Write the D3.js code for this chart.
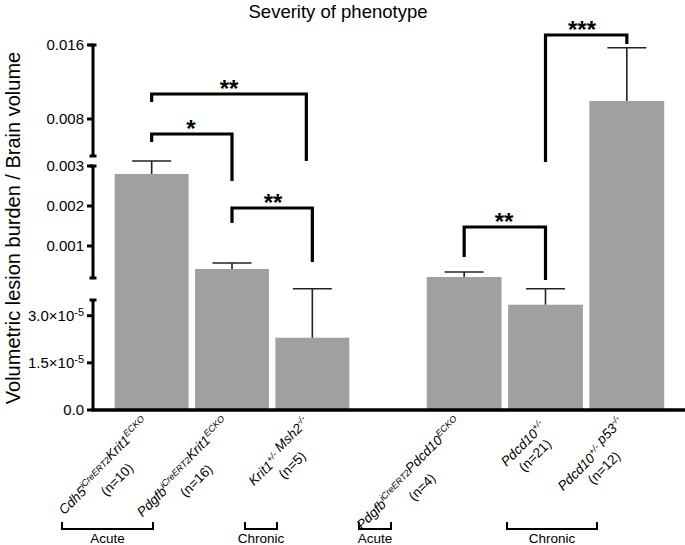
<!DOCTYPE html>
<html>
<head>
<meta charset="utf-8">
<script src="https://cdn.jsdelivr.net/npm/d3@7"></script>
<style>
  body { margin: 0; background: #fff; }
  svg { font-family: "Liberation Sans", Arial, sans-serif; }
</style>
</head>
<body>
<div id="chart"></div>
<script>
// genotype labels: [name, superscript] pieces
var genotypes = [[["Cdh5", "iCreERT2"], ["Krit1", "ECKO"]],
                 [["Pdgfb", "iCreERT2"], ["Krit1", "ECKO"]],
                 [["Krit1", "+/-"], [" Msh2", "-/-"]],
                 [["Pdgfb", "iCreERT2"], ["Pdcd10", "ECKO"]],
                 [["Pdcd10", "+/-"]],
                 [["Pdcd10", "+/-"], [" p53", "-/-"]]];
var nCounts = [10, 16, 5, 4, 21, 12];
var means   = [0.0028, 0.000425, 2.3e-5, 0.000225, 3.35e-5, 0.00995];
var errors  = [0.000325, 0.00015, 1.56e-5, 0.000125, 0.51e-5, 0.00575];
var side    = ["left", "left", "left", "right", "right", "right"];

var groupLabels = ["Acute", "Chronic", "Acute", "Chronic"];
// significance brackets: bar a -> bar b
var sigPairs = [{a: 0, b: 2, label: "**"},
                {a: 0, b: 1, label: "*"},
                {a: 1, b: 2, label: "**"},
                {a: 3, b: 4, label: "**"},
                {a: 4, b: 5, label: "***"}];

// axis segments (broken y axis)
var segTicks = [[0.008, 0.016], [0.001, 0.002, 0.003], [0, 1.5e-5, 3.0e-5]];

var width = 685, height = 545;
var svg = d3.select("#chart").append("svg")
  .attr("width", width).attr("height", height);

var axisX = 93, baseY = 410;

var ySegs = [
  d3.scaleLinear().domain([0.004, 0.016]).range([156, 45]),
  d3.scaleLinear().domain([0.0002, 0.003]).range([278, 166]),
  d3.scaleLinear().domain([0, 3.5e-5]).range([baseY, 300])
];
function segOf(v){
  if(v >= 0.0035) return 0;
  if(v >= 0.0001) return 1;
  return 2;
}
function yPos(v){ return ySegs[segOf(v)](v); }

var xLeft = d3.scaleBand().domain([0, 1, 2]).range([111.5, 352.5])
  .paddingInner(0.08).paddingOuter(0.04);
var xRight = d3.scaleBand().domain([3, 4, 5]).range([423.5, 667.5])
  .paddingInner(0.08).paddingOuter(0.04);
function xs(i){ return side[i] == "left" ? xLeft : xRight; }
function cx(i){ return xs(i)(i) + xs(i).bandwidth() / 2; }

var idx = d3.range(means.length);

// title
svg.append("text")
  .attr("x", 338).attr("y", 18)
  .attr("text-anchor", "middle")
  .style("font-size", "18.5px")
  .text("Severity of phenotype");

// y title
svg.append("text")
  .attr("transform", "translate(20," + 228 + ") rotate(-90)")
  .attr("text-anchor", "middle")
  .style("font-size", "20px")
  .text("Volumetric lesion burden / Brain volume");

// bars
svg.selectAll("rect.bar")
  .data(idx).enter()
  .append("rect")
    .attr("class", "bar")
    .attr("x", function(d){ return xs(d)(d); })
    .attr("width", function(d){ return xs(d).bandwidth(); })
    .attr("y", function(d){ return yPos(means[d]); })
    .attr("height", function(d){ return baseY - yPos(means[d]); })
    .attr("fill", "#a0a0a0");

// error bars
var capW = 39;
var eb = svg.selectAll("g.err").data(idx).enter().append("g").attr("class", "err")
  .attr("stroke", "#222").attr("stroke-width", 1.6);
eb.append("line")
  .attr("x1", cx).attr("x2", cx)
  .attr("y1", function(d){ return yPos(means[d]); })
  .attr("y2", function(d){ return yPos(means[d] + errors[d]); });
eb.append("line")
  .attr("x1", function(d){ return cx(d) - capW / 2; })
  .attr("x2", function(d){ return cx(d) + capW / 2; })
  .attr("y1", function(d){ return yPos(means[d] + errors[d]); })
  .attr("y2", function(d){ return yPos(means[d] + errors[d]); });

// y axis segments
function fmtTick(v){
  if(v == 0) return "0.0";
  if(v < 0.0001) return (v * 1e5).toFixed(1) + "×10";
  return d3.format(".3f")(v);
}
ySegs.forEach(function(s, k){
  var r = s.range();
  var top = k == 0 ? s(0.016) : (k == 1 ? s(0.003) : r[1]);
  var bot = k == 2 ? baseY : r[0];
  var g = svg.append("g").attr("transform", "translate(" + axisX + ",0)");
  g.append("line").attr("x1", 0).attr("x2", 0).attr("y1", top).attr("y2", bot)
    .attr("stroke", "#000").attr("stroke-width", 3);
  [top, bot].forEach(function(yy){
    if(k == 2 && yy == bot) return;
    g.append("line").attr("x1", -3.5).attr("x2", 3.5).attr("y1", yy).attr("y2", yy)
      .attr("stroke", "#000").attr("stroke-width", 3);
  });
  var t = g.selectAll("g.tick").data(segTicks[k]).enter().append("g")
    .attr("transform", function(d){ return "translate(0," + s(d) + ")"; });
  t.append("line").attr("x1", -6).attr("x2", 0)
    .attr("stroke", "#000").attr("stroke-width", 3);
  var tx = t.append("text")
    .attr("x", -9).attr("dy", "0.35em")
    .attr("text-anchor", "end")
    .style("font-size", "15px");
  tx.text(fmtTick);
  tx.filter(function(d){ return d > 0 && d < 0.0001; })
    .append("tspan").attr("dy", "-0.45em").style("font-size", "11px").text("-5");
});

// x axis
svg.append("line")
  .attr("x1", axisX - 1.5).attr("x2", width)
  .attr("y1", baseY).attr("y2", baseY)
  .attr("stroke", "#000").attr("stroke-width", 3.5);

// x labels
var lab = svg.selectAll("g.xlab").data(idx).enter().append("g")
  .attr("class", "xlab")
  .attr("transform", function(d){ return "translate(" + (cx(d) + 1) + ",427) rotate(-45)"; });
lab.each(function(d){
  var g = d3.select(this);
  var t1 = g.append("text").attr("text-anchor", "end")
    .style("font-size", "13.5px").style("font-style", "italic");
  genotypes[d].forEach(function(p){
    t1.append("tspan").attr("dy", 0).text(p[0]);
    t1.append("tspan").attr("dy", -5.5).style("font-size", "9px").text(p[1]);
    t1.append("tspan").attr("dy", 5.5).text("");
  });
  var len = t1.node().getComputedTextLength();
  g.append("text").attr("text-anchor", "middle")
    .attr("x", -len / 2).attr("y", 16.5)
    .style("font-size", "13.5px")
    .text("(n=" + nCounts[d] + ")");
});

// significance brackets
var sigLayout = [{y: 94, ya: 102, yb: 161, tx: 229},
                 {y: 134, ya: 142, yb: 181, tx: 191},
                 {y: 208, ya: 223, yb: 262, tx: 273},
                 {y: 227, ya: 257, yb: 280, tx: 504},
                 {y: 35, ya: 162, yb: 44, tx: 582}];
var sg = svg.selectAll("g.sig").data(sigPairs).enter().append("g").attr("class", "sig");
sg.append("path")
  .attr("d", function(d, i){
    var L = sigLayout[i], x1 = cx(d.a), x2 = cx(d.b);
    if(i == 0) x2 -= 6;
    return "M" + x1 + "," + L.ya + "V" + L.y + "H" + x2 + "V" + L.yb;
  })
  .attr("fill", "none").attr("stroke", "#000").attr("stroke-width", 3.2);
sg.append("text")
  .attr("x", function(d, i){ return sigLayout[i].tx; })
  .attr("y", function(d, i){ return sigLayout[i].y + 3; })
  .attr("text-anchor", "middle")
  .style("font-size", "24px").style("font-weight", "bold")
  .text(function(d){ return d.label; });

// group brackets under the labels
var groupSpans = [[62, 153], [245, 277], [359, 391], [507, 597]];
var gb = svg.selectAll("g.grp").data(groupLabels).enter().append("g").attr("class", "grp");
gb.append("path")
  .attr("d", function(d, i){
    var s = groupSpans[i];
    return "M" + s[0] + ",522V529H" + s[1] + "V522";
  })
  .attr("fill", "none").attr("stroke", "#000").attr("stroke-width", 2);
gb.append("text")
  .attr("x", function(d, i){ return (groupSpans[i][0] + groupSpans[i][1]) / 2; })
  .attr("y", 543)
  .attr("text-anchor", "middle")
  .style("font-size", "13.5px")
  .text(function(d){ return d; });
</script>
</body>
</html>
